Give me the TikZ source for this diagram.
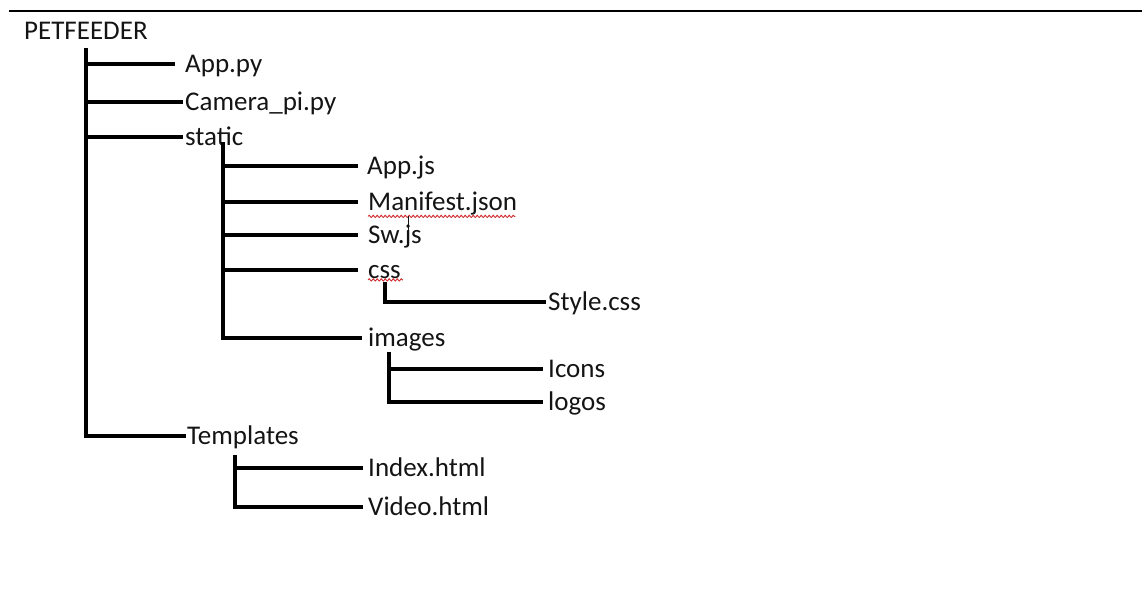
\documentclass[tikz,border=0pt]{standalone}
\usepackage{fontspec}
\setmainfont{Carlito}
\usetikzlibrary{decorations.pathmorphing}
\definecolor{ink}{HTML}{141414}
\definecolor{spell}{HTML}{D03030}
\tikzset{
  lbl/.style={anchor=west,inner sep=0pt,text height=17.4pt,text depth=0pt,text=ink,font=\fontsize{27}{32}\selectfont},
  br/.style={line width=4pt,draw=black},
  rule/.style={line width=2.2pt,draw=black},
  wavy/.style={draw=spell,line width=0.9pt,decorate,decoration={snake,amplitude=1.1pt,segment length=4pt}}
}
\begin{document}
\begin{tikzpicture}[x=1pt,y=-1pt]
\useasboundingbox (0,0) rectangle (1142,613);
% top rule
\coordinate (ruleL) at (9,11);
\coordinate (ruleR) at (1142,11);
\draw[rule] (ruleL) -- (ruleR);
% labels
\node[lbl] (root) at (24,30.5) {PETFEEDER};
\node[lbl] (app) at (185,64) {App.py};
\node[lbl] (cam) at (185,101.5) {Camera\_pi.py};
\node[lbl] (static) at (185,136.5) {static};
\node[lbl] (appjs) at (367,165.5) {App.js};
\node[lbl] (mani) at (368,201.5) {Manifest.json};
\node[lbl] (sw) at (368,235) {Sw.js};
\node[lbl] (css) at (368,270) {css};
\node[lbl] (style) at (548,301.5) {Style.css};
\node[lbl] (img) at (368,338) {images};
\node[lbl] (icons) at (548,369) {Icons};
\node[lbl] (logos) at (548,401.5) {logos};
\node[lbl] (tmpl) at (187,435.5) {Templates};
\node[lbl] (index) at (368,467.5) {Index.html};
\node[lbl] (video) at (368,506.5) {Video.html};
% trunk tops
\coordinate (rootT) at (86,48);
\coordinate (staticT) at (223,142);
\coordinate (cssT) at (385,282);
\coordinate (imgT) at (389,352);
\coordinate (tmplT) at (235,455);
% root
\draw[br] (rootT) |- ([xshift=-1pt]tmpl.west);
\draw[br] (rootT |- app.west) -- ([xshift=-10pt]app.west);
\draw[br] (rootT |- cam.west) -- ([xshift=-2pt]cam.west);
\draw[br] (rootT |- static.west) -- ([xshift=-2pt]static.west);
% static
\draw[br] (staticT) |- ([xshift=-6pt]img.west);
\draw[br] (staticT |- appjs.west) -- ([xshift=-9pt]appjs.west);
\draw[br] (staticT |- mani.west) -- ([xshift=-10pt]mani.west);
\draw[br] (staticT |- sw.west) -- ([xshift=-10pt]sw.west);
\draw[br] (staticT |- css.west) -- ([xshift=-10pt]css.west);
% css
\draw[br] (cssT) |- ([xshift=-2pt]style.west);
% images
\draw[br] (imgT) |- ([xshift=-5pt]logos.west);
\draw[br] (imgT |- icons.west) -- ([xshift=-5pt]icons.west);
% templates
\draw[br] (tmplT) |- ([xshift=-5pt]video.west);
\draw[br] (tmplT |- index.west) -- ([xshift=-5pt]index.west);
% spell-check underlines
\draw[wavy] ([yshift=-6pt]mani.south west) -- ([yshift=-6pt,xshift=-2pt]mani.south east);
\draw[wavy] ([yshift=-1pt]css.south west) -- ([yshift=-1pt,xshift=2pt]css.south east);
% text cursor
\coordinate (caretT) at (408,216);
\coordinate (caretB) at (408,246);
\draw[line width=0.9pt,draw=ink] (caretT) -- (caretB);
\end{tikzpicture}
\end{document}
